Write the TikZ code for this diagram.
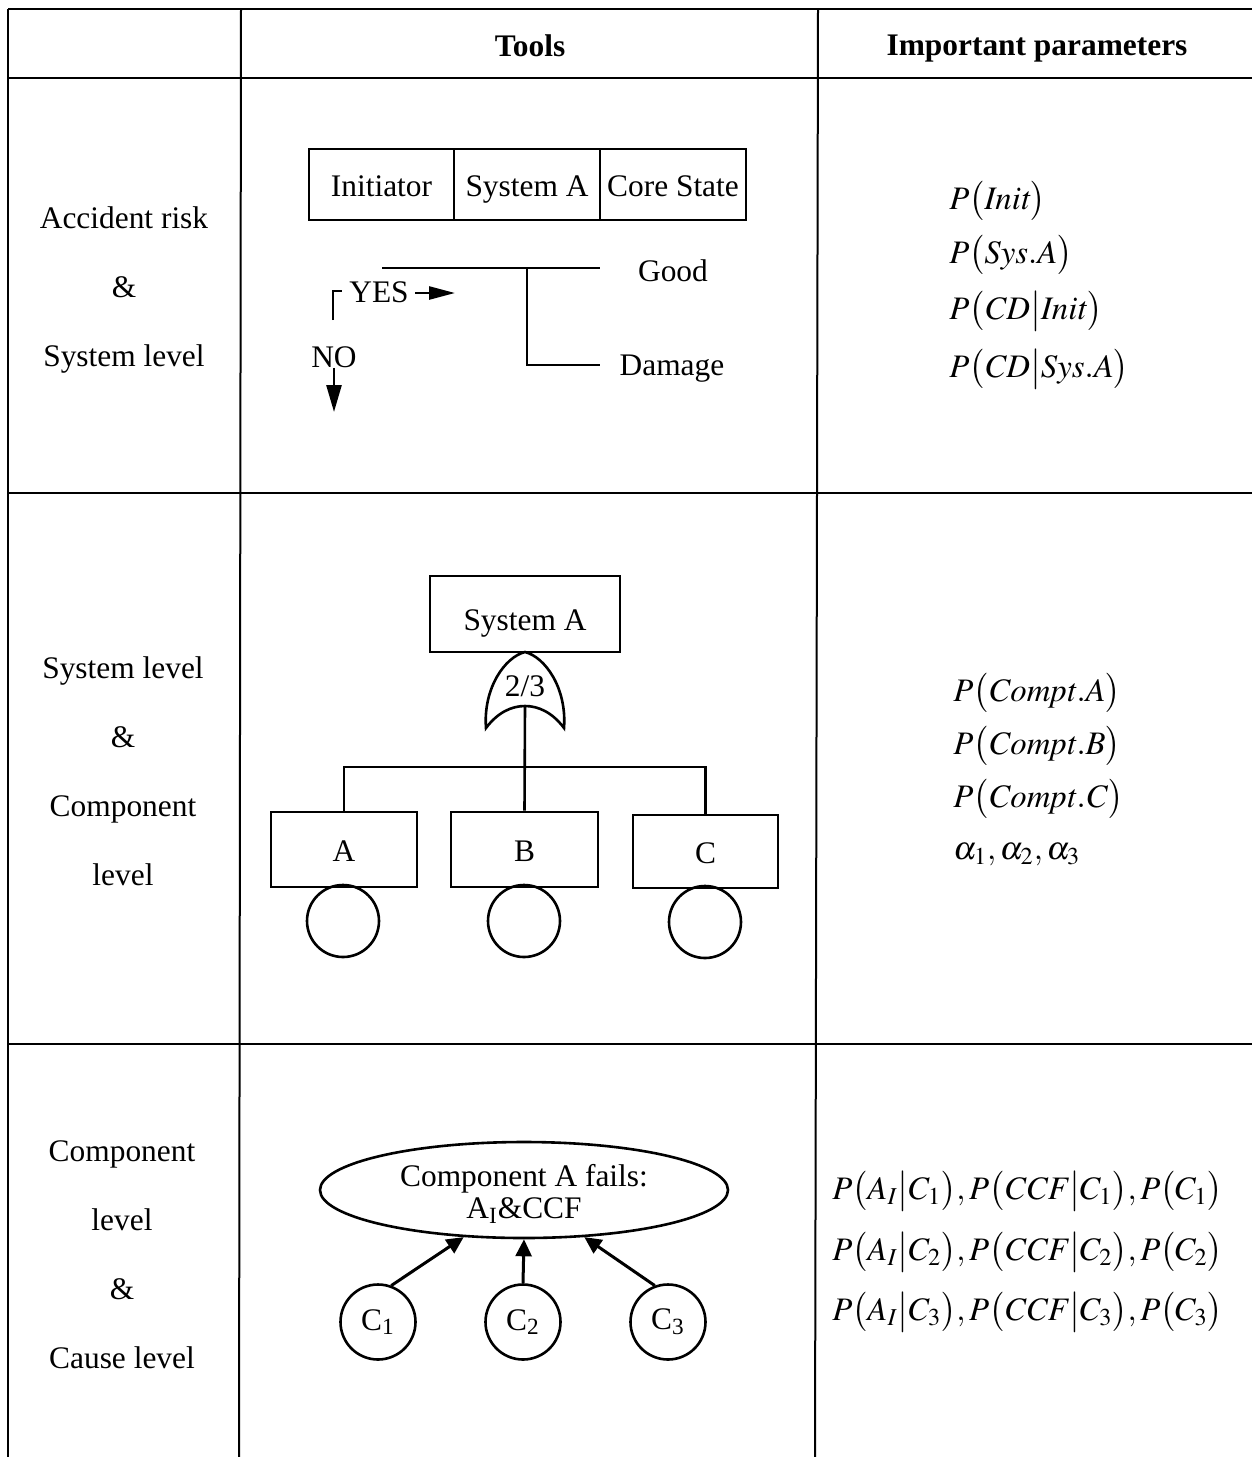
\documentclass[tikz,border=0pt]{standalone}
\usepackage{mathptmx}
\usepackage[no-math]{fontspec}
\setmainfont{Liberation Serif}
\usetikzlibrary{arrows.meta,shapes.geometric}

\begin{document}
\begin{tikzpicture}[x=0.5pt,y=-0.5pt,
  every node/.style={inner sep=0pt, font=\fontsize{15.7}{18}\selectfont},
  grid/.style={line width=1pt},
  ln/.style={line width=1.3pt},
  rowlbl/.style={align=center, font=\fontsize{15.7}{34.5}\selectfont},
  etbox/.style={draw, line width=1.3pt, minimum height=35.5pt, text height=12.4pt, text depth=0pt},
  ftbox/.style={draw, line width=1.3pt},
  basic/.style={draw, circle, line width=1.3pt, minimum size=36pt},
  cause/.style={draw, circle, line width=1.3pt, minimum size=37.5pt},
  param/.style={anchor=west, font=\fontsize{16.4}{18}\selectfont},
]
\useasboundingbox (0,0) rectangle (1252,1457);

% table rules
\draw[line width=1.4pt] (8,9) -- (1252,9);
\draw[line width=1.2pt] (8,78) -- (1252,78);
\draw[grid] (8,493) -- (1252,493);
\draw[grid] (8,1044) -- (1252,1044);
\draw[grid] (8,9) -- (8,1457);
\draw[grid] (241,9) -- (239,1457);
\draw[grid] (818,9) -- (815,1457);

% header
\node (hTools) at (530,46) {\bfseries Tools};
\node (hPar) at (1037,49) {\bfseries Important parameters};

% row labels
\node[rowlbl] (lbl1) at (124,290) {Accident risk\\\&\\System level};
\node[rowlbl] (lbl2) at (123,771) {System level\\\&\\Component\\level};
\node[rowlbl] (lbl3) at (122,1255) {Component\\level\\\&\\Cause level};

% event tree
\node[etbox, minimum width=72.5pt] (ini) at (381.5,184.5) {Initiator};
\node[etbox, minimum width=73pt] (sysE) at (527,184.5) {System A};
\node[etbox, minimum width=73pt] (core) at (673,184.5) {Core State};
\coordinate (t0) at (382,268);
\coordinate (tb) at (527,268);
\coordinate (tg) at (600,268);
\coordinate (td) at (600,365);
\draw[ln] (t0) -- (tg);
\draw[ln] (tb) |- (td);
\node (good) at (673,271) {Good};
\node (dmg) at (672,369) {Damage};

% yes / no legend
\node (yes) at (379,292) {YES};
\coordinate (bk0) at (333,320);
\coordinate (bk1) at (342,291);
\draw[ln] (bk0) |- (bk1);
\coordinate (ya) at (415,293);
\coordinate (yb) at (455,293);
\draw[ln, -{Triangle[length=13pt,width=6.5pt]}] (ya) -- (yb);
\node (no) at (334,357) {NO};
\coordinate (nb) at (334,412);
\draw[ln, -{Triangle[length=13.5pt,width=7.5pt]}] (no.south) -- (nb);

% fault tree
\node[ftbox, minimum width=95pt, minimum height=38pt, text height=16.9pt, text depth=0pt] (sys) at (525,614) {System A};
\draw[ln, fill=white] (486,728) .. controls (483,688) and (505,657) .. (525,652)
  .. controls (545,657) and (567,688) .. (564,728)
  .. controls (552,712) and (538,706) .. (525,706)
  .. controls (512,706) and (498,712) .. (486,728) -- cycle;
\node (vote) at (525,686) {2/3};
\coordinate (gout) at (525,706);
\node[ftbox, minimum width=73pt, minimum height=37.5pt, text height=12pt, text depth=0pt] (A) at (344,849.5) {A};
\node[ftbox, minimum width=73.5pt, minimum height=37.5pt, text height=12pt, text depth=0pt] (B) at (524.5,849.5) {B};
\node[ftbox, minimum width=72.5pt, minimum height=36.5pt, text height=12pt, text depth=0pt] (C) at (705.5,851.5) {C};
\node[basic] (ba) at (343,921) {};
\node[basic] (bb) at (524,921) {};
\node[basic] (bc) at (705,922) {};
\coordinate (bus) at (525,767);
\draw[ln] (gout) -- (B.north);
\draw[ln] (A.north) |- (bus) -| (C.north);

% cause diagram
\node[draw, ellipse, line width=1.3pt, minimum width=204pt, minimum height=48pt] (ell) at (524,1190) {};
\node[align=center, font=\fontsize{15.7}{16}\selectfont] (elltxt) at (524,1194)
      {Component A fails:\\A\textsubscript{I}\&CCF};
\node[cause] (c1) at (378,1322) {C\textsubscript{1}};
\node[cause] (c2) at (523,1322) {C\textsubscript{2}};
\node[cause] (c3) at (668,1322) {C\textsubscript{3}};
\draw[line width=1.5pt, -{Triangle[length=8.5pt,width=8pt]}] (c1.70) -- (ell.218);
\draw[line width=1.5pt, -{Triangle[length=8.5pt,width=8pt]}] (c2.north) -- (ell.south);
\draw[line width=1.5pt, -{Triangle[length=8.5pt,width=8pt]}] (c3.110) -- (ell.322);

% parameters
\node[param] (p11) at (949,201) {$P\bigl(\mathit{Init}\bigr)$};
\node[param] (p12) at (949,255) {$P\bigl(\mathit{Sys.A}\bigr)$};
\node[param] (p13) at (949,311) {$P\bigl(\mathit{CD}\big|\mathit{Init}\bigr)$};
\node[param] (p14) at (949,369) {$P\bigl(\mathit{CD}\big|\mathit{Sys.A}\bigr)$};

\node[param] (p21) at (953,693) {$P\bigl(\mathit{Compt.A}\bigr)$};
\node[param] (p22) at (953,746) {$P\bigl(\mathit{Compt.B}\bigr)$};
\node[param] (p23) at (953,799) {$P\bigl(\mathit{Compt.C}\bigr)$};
\node[param] (p24) at (953,855) {$\alpha_1,\alpha_2,\alpha_3$};

\node[param] (p31) at (832,1191) {$P\bigl(A_I\big|C_1\bigr),P\bigl(\mathit{CCF}\big|C_1\bigr),P\bigl(C_1\bigr)$};
\node[param] (p32) at (832,1252) {$P\bigl(A_I\big|C_2\bigr),P\bigl(\mathit{CCF}\big|C_2\bigr),P\bigl(C_2\bigr)$};
\node[param] (p33) at (832,1312) {$P\bigl(A_I\big|C_3\bigr),P\bigl(\mathit{CCF}\big|C_3\bigr),P\bigl(C_3\bigr)$};
\end{tikzpicture}
\end{document}
